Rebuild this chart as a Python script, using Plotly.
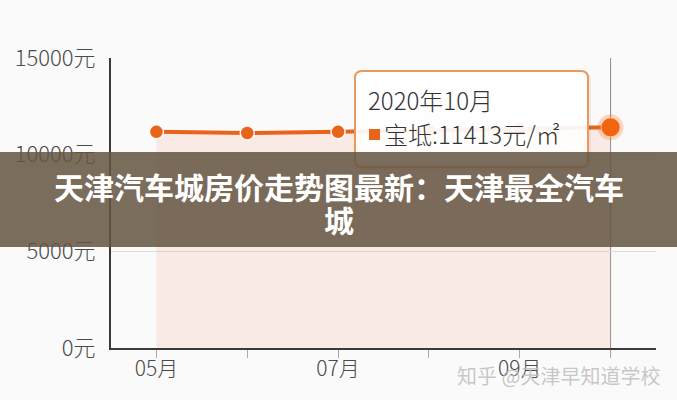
import plotly.graph_objects as go

months = ["05月", "06月", "07月", "08月", "09月", "10月"]
prices = [11180, 11120, 11180, 11260, 11330, 11413]
shown_month_labels = ["05月", "", "07月", "", "09月", ""]
y_ticks = [0, 5000, 10000, 15000]
y_tick_labels = ["0元", "5000元", "10000元", "15000元"]
tooltip_title = "2020年10月"
tooltip_text = "宝坻:11413元/㎡"
banner_line1 = "天津汽车城房价走势图最新：天津最全汽车"
banner_line2 = "城"
watermark = "知乎 @天津早知道学校"

W, H = 677, 400
L, R, T, B = 111, 21, 58, 52
PW, PH = W - L - R, H - T - B

def px(x):
    return (x - L) / PW

def py(y):
    return (H - B - y) / PH

def rounded_rect(x0, y0, x1, y1, r):
    rx, ry = r / PW, r / PH
    a, b, c, d = px(x0), py(y1), px(x1), py(y0)
    return (f"M {a+rx},{d} L {c-rx},{d} Q {c},{d} {c},{d-ry} L {c},{b+ry} "
            f"Q {c},{b} {c-rx},{b} L {a+rx},{b} Q {a},{b} {a},{b+ry} "
            f"L {a},{d-ry} Q {a},{d} {a+rx},{d} Z")

orange = "#e8641b"
font_cjk = "Noto Sans CJK SC"
x_tick_font = dict(family=font_cjk, size=21, color="#4a4a4a", weight=300)
y_tick_font = dict(family=font_cjk, size=22, color="#4a4a4a", weight=300)

fig = go.Figure()
fig.add_trace(go.Scatter(
    x=months, y=prices, mode="lines+markers",
    line=dict(color=orange, width=4),
    marker=dict(size=14, color=orange, line=dict(color="rgba(255,255,255,0.9)", width=1.5)),
    fill="tozeroy", fillcolor="rgba(248,160,135,0.18)",
    hoverinfo="skip", showlegend=False,
))
fig.add_trace(go.Scatter(
    x=months[-1:], y=prices[-1:], mode="markers",
    marker=dict(size=26, color="rgba(242,106,16,0.25)"),
    hoverinfo="skip", showlegend=False,
))
fig.add_trace(go.Scatter(
    x=months[-1:], y=prices[-1:], mode="markers",
    marker=dict(size=19, color="#f26510", line=dict(color="rgba(255,200,170,0.8)", width=1)),
    hoverinfo="skip", showlegend=False,
))

shapes = []
shapes.append(dict(type="line", xref="x", yref="paper", x0=months[-1], x1=months[-1],
                   y0=py(357), y1=1, line=dict(color="#8a8a8a", width=1), layer="below"))
shapes.append(dict(type="path", xref="paper", yref="paper",
                   path=rounded_rect(357, 73, 591, 170, 7),
                   fillcolor="rgba(0,0,0,0.06)", line=dict(width=0), layer="above"))
shapes.append(dict(type="path", xref="paper", yref="paper",
                   path=rounded_rect(355, 71, 588, 167, 7),
                   fillcolor="rgba(255,255,255,0.93)", line=dict(color="#e89a5c", width=2), layer="above"))
shapes.append(dict(type="rect", xref="paper", yref="paper",
                   x0=px(369), x1=px(380), y0=py(140), y1=py(129),
                   fillcolor=orange, line=dict(width=0), layer="above"))
shapes.append(dict(type="rect", xref="paper", yref="paper",
                   x0=px(0), x1=px(W), y0=py(247), y1=py(152),
                   fillcolor="rgba(100,85,65,0.86)", line=dict(width=0), layer="above"))

annotations = [
    dict(text=tooltip_title, xref="paper", yref="paper", x=px(366), y=py(100),
         xanchor="left", yanchor="middle", showarrow=False,
         font=dict(family=font_cjk, size=24, color="#333333", weight=300)),
    dict(text=tooltip_text, xref="paper", yref="paper", x=px(382), y=py(133),
         xanchor="left", yanchor="middle", showarrow=False,
         font=dict(family=font_cjk, size=24, color="#333333", weight=300)),
    dict(text="<b>" + banner_line1 + "</b>", xref="paper", yref="paper", x=px(339), y=py(186),
         xanchor="center", yanchor="middle", showarrow=False,
         font=dict(family=font_cjk, size=30, color="white")),
    dict(text="<b>" + banner_line2 + "</b>", xref="paper", yref="paper", x=px(339), y=py(219),
         xanchor="center", yanchor="middle", showarrow=False,
         font=dict(family=font_cjk, size=30, color="white")),
    dict(text=watermark, xref="paper", yref="paper", x=px(662), y=py(375),
         xanchor="right", yanchor="middle", showarrow=False,
         font=dict(family=font_cjk, size=20, color="rgba(190,190,190,0.85)")),
]

fig.update_layout(
    width=W, height=H,
    margin=dict(l=L, r=R, t=T, b=B),
    paper_bgcolor="#fafafa", plot_bgcolor="#fafafa",
    shapes=shapes, annotations=annotations,
    font=dict(family=font_cjk),
)
fig.update_xaxes(
    type="category", range=[-0.5, 5.5],
    tickvals=months, ticktext=shown_month_labels,
    showline=True, linecolor="#3a3a3a", linewidth=2,
    ticks="outside", ticklen=8, tickcolor="#aaaaaa", tickwidth=1,
    showgrid=False, zeroline=False,
    ticklabelstandoff=-7,
    tickfont=x_tick_font,
)
fig.update_yaxes(
    range=[0, 15000], tickvals=y_ticks, ticktext=y_tick_labels,
    showline=True, linecolor="#3a3a3a", linewidth=2,
    showgrid=True, gridcolor="#dcdcdc", gridwidth=1, zeroline=False,
    ticks="", ticklabelstandoff=9,
    tickfont=y_tick_font,
)

fig.write_html("out.html", config={"displayModeBar": False},
               post_script="document.body.style.margin='0px';document.body.style.background='#fafafa';")
